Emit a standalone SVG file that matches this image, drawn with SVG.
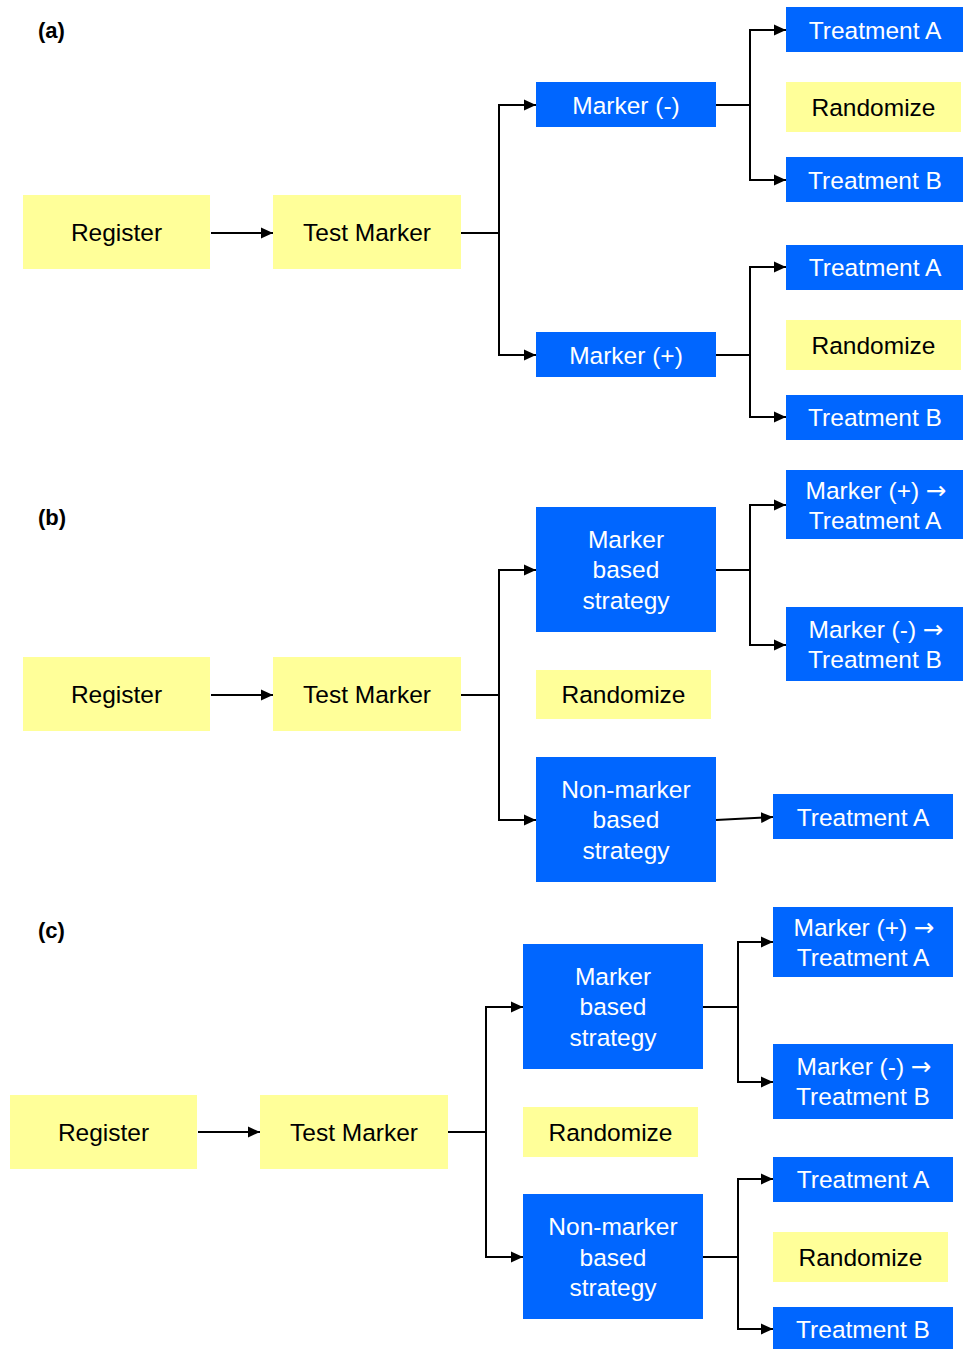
<svg xmlns="http://www.w3.org/2000/svg" width="963" height="1349" viewBox="0 0 963 1349">
<style>
.y{fill:#FFFF99}
.b{fill:#0066FF}
.t{font-family:"Liberation Sans",Arial,sans-serif;font-size:24.5px;text-anchor:middle}
.ar{font-family:"DejaVu Sans",sans-serif}
.tw{fill:#FFFFFF}
.tk{fill:#000000}
.lab{font-family:"Liberation Sans",Arial,sans-serif;font-size:22px;font-weight:bold;fill:#000}
.c{fill:none;stroke:#000;stroke-width:2}
</style>
<defs>
<marker id="ah" markerUnits="userSpaceOnUse" markerWidth="13" markerHeight="12" refX="12" refY="6" orient="auto">
<path d="M0,0.5 L12,6 L0,11.5 z" fill="#000"/>
</marker>
</defs>
<rect width="963" height="1349" fill="#fff"/>
<text class="lab" x="38" y="38">(a)</text>
<text class="lab" x="38" y="525">(b)</text>
<text class="lab" x="38" y="938">(c)</text>

<g id="connectors">
<path class="c" d="M211,233 H273" marker-end="url(#ah)"/>
<path class="c" d="M461,233 H499 V105 H536" marker-end="url(#ah)"/>
<path class="c" d="M499,233 V355 H536" marker-end="url(#ah)"/>
<path class="c" d="M716,105 H750 V30 H786" marker-end="url(#ah)"/>
<path class="c" d="M750,105 V180 H786" marker-end="url(#ah)"/>
<path class="c" d="M716,355 H750 V267 H786" marker-end="url(#ah)"/>
<path class="c" d="M750,355 V417 H786" marker-end="url(#ah)"/>

<path class="c" d="M211,695 H273" marker-end="url(#ah)"/>
<path class="c" d="M461,695 H499 V570 H536" marker-end="url(#ah)"/>
<path class="c" d="M499,695 V820 H536" marker-end="url(#ah)"/>
<path class="c" d="M716,570 H750 V505 H786" marker-end="url(#ah)"/>
<path class="c" d="M750,570 V645 H786" marker-end="url(#ah)"/>
<path class="c" d="M716,820 L773,817" marker-end="url(#ah)"/>

<path class="c" d="M198,1132 H260" marker-end="url(#ah)"/>
<path class="c" d="M448,1132 H486 V1007 H523" marker-end="url(#ah)"/>
<path class="c" d="M486,1132 V1257 H523" marker-end="url(#ah)"/>
<path class="c" d="M703,1007 H738 V942 H773" marker-end="url(#ah)"/>
<path class="c" d="M738,1007 V1082 H773" marker-end="url(#ah)"/>
<path class="c" d="M703,1257 H738 V1179 H773" marker-end="url(#ah)"/>
<path class="c" d="M738,1257 V1329 H773" marker-end="url(#ah)"/>
</g>

<!-- Panel a -->
<g id="a_register"><rect class="y" x="23" y="195" width="187" height="74"/><text class="t tk" x="116.5" y="241">Register</text></g>
<g id="a_test"><rect class="y" x="273" y="195" width="188" height="74"/><text class="t tk" x="367" y="241">Test Marker</text></g>
<g id="a_markerneg"><rect class="b" x="536" y="82" width="180" height="45"/><text class="t tw" x="626" y="113.5">Marker (-)</text></g>
<g id="a_markerpos"><rect class="b" x="536" y="332" width="180" height="45"/><text class="t tw" x="626" y="363.5">Marker (+)</text></g>
<g id="a_ta1"><rect class="b" x="786" y="7" width="177" height="45"/><text class="t tw" x="875" y="38.5">Treatment A</text></g>
<g id="a_rand1"><rect class="y" x="786" y="82" width="175" height="50"/><text class="t tk" x="873.5" y="116">Randomize</text></g>
<g id="a_tb1"><rect class="b" x="786" y="157" width="177" height="45"/><text class="t tw" x="875" y="188.5">Treatment B</text></g>
<g id="a_ta2"><rect class="b" x="786" y="245" width="177" height="45"/><text class="t tw" x="875" y="276">Treatment A</text></g>
<g id="a_rand2"><rect class="y" x="786" y="320" width="175" height="50"/><text class="t tk" x="873.5" y="353.5">Randomize</text></g>
<g id="a_tb2"><rect class="b" x="786" y="395" width="177" height="45"/><text class="t tw" x="875" y="426">Treatment B</text></g>

<!-- Panel b -->
<g id="b_register"><rect class="y" x="23" y="657" width="187" height="74"/><text class="t tk" x="116.5" y="703">Register</text></g>
<g id="b_test"><rect class="y" x="273" y="657" width="188" height="74"/><text class="t tk" x="367" y="703">Test Marker</text></g>
<g id="b_mbs"><rect class="b" x="536" y="507" width="180" height="125"/><text class="t tw" x="626" y="547.5">Marker</text><text class="t tw" x="626" y="578">based</text><text class="t tw" x="626" y="608.5">strategy</text></g>
<g id="b_rand"><rect class="y" x="536" y="670" width="175" height="49"/><text class="t tk" x="623.5" y="703">Randomize</text></g>
<g id="b_nmbs"><rect class="b" x="536" y="757" width="180" height="125"/><text class="t tw" x="626" y="797.5">Non-marker</text><text class="t tw" x="626" y="828">based</text><text class="t tw" x="626" y="858.5">strategy</text></g>
<g id="b_mpos"><rect class="b" x="786" y="470" width="177" height="69"/><text class="t tw" x="876" y="498.5">Marker (+) <tspan class="ar">→</tspan></text><text class="t tw" x="875" y="528.5">Treatment A</text></g>
<g id="b_mneg"><rect class="b" x="786" y="607" width="177" height="74"/><text class="t tw" x="876" y="637.5">Marker (-) <tspan class="ar">→</tspan></text><text class="t tw" x="875" y="667.5">Treatment B</text></g>
<g id="b_ta"><rect class="b" x="773" y="794" width="180" height="45"/><text class="t tw" x="863" y="825.5">Treatment A</text></g>

<!-- Panel c -->
<g id="c_register"><rect class="y" x="10" y="1095" width="187" height="74"/><text class="t tk" x="103.5" y="1141">Register</text></g>
<g id="c_test"><rect class="y" x="260" y="1095" width="188" height="74"/><text class="t tk" x="354" y="1141">Test Marker</text></g>
<g id="c_mbs"><rect class="b" x="523" y="944" width="180" height="125"/><text class="t tw" x="613" y="984.5">Marker</text><text class="t tw" x="613" y="1015">based</text><text class="t tw" x="613" y="1045.5">strategy</text></g>
<g id="c_rand"><rect class="y" x="523" y="1107" width="175" height="50"/><text class="t tk" x="610.5" y="1141">Randomize</text></g>
<g id="c_nmbs"><rect class="b" x="523" y="1194" width="180" height="125"/><text class="t tw" x="613" y="1235">Non-marker</text><text class="t tw" x="613" y="1265.5">based</text><text class="t tw" x="613" y="1296">strategy</text></g>
<g id="c_mpos"><rect class="b" x="773" y="907" width="180" height="70"/><text class="t tw" x="864" y="936">Marker (+) <tspan class="ar">→</tspan></text><text class="t tw" x="863" y="966">Treatment A</text></g>
<g id="c_mneg"><rect class="b" x="773" y="1044" width="180" height="75"/><text class="t tw" x="864" y="1075">Marker (-) <tspan class="ar">→</tspan></text><text class="t tw" x="863" y="1105">Treatment B</text></g>
<g id="c_ta"><rect class="b" x="773" y="1157" width="180" height="45"/><text class="t tw" x="863" y="1188">Treatment A</text></g>
<g id="c_rand2"><rect class="y" x="773" y="1232" width="175" height="50"/><text class="t tk" x="860.5" y="1265.5">Randomize</text></g>
<g id="c_tb"><rect class="b" x="773" y="1307" width="180" height="45"/><text class="t tw" x="863" y="1338">Treatment B</text></g>
</svg>
